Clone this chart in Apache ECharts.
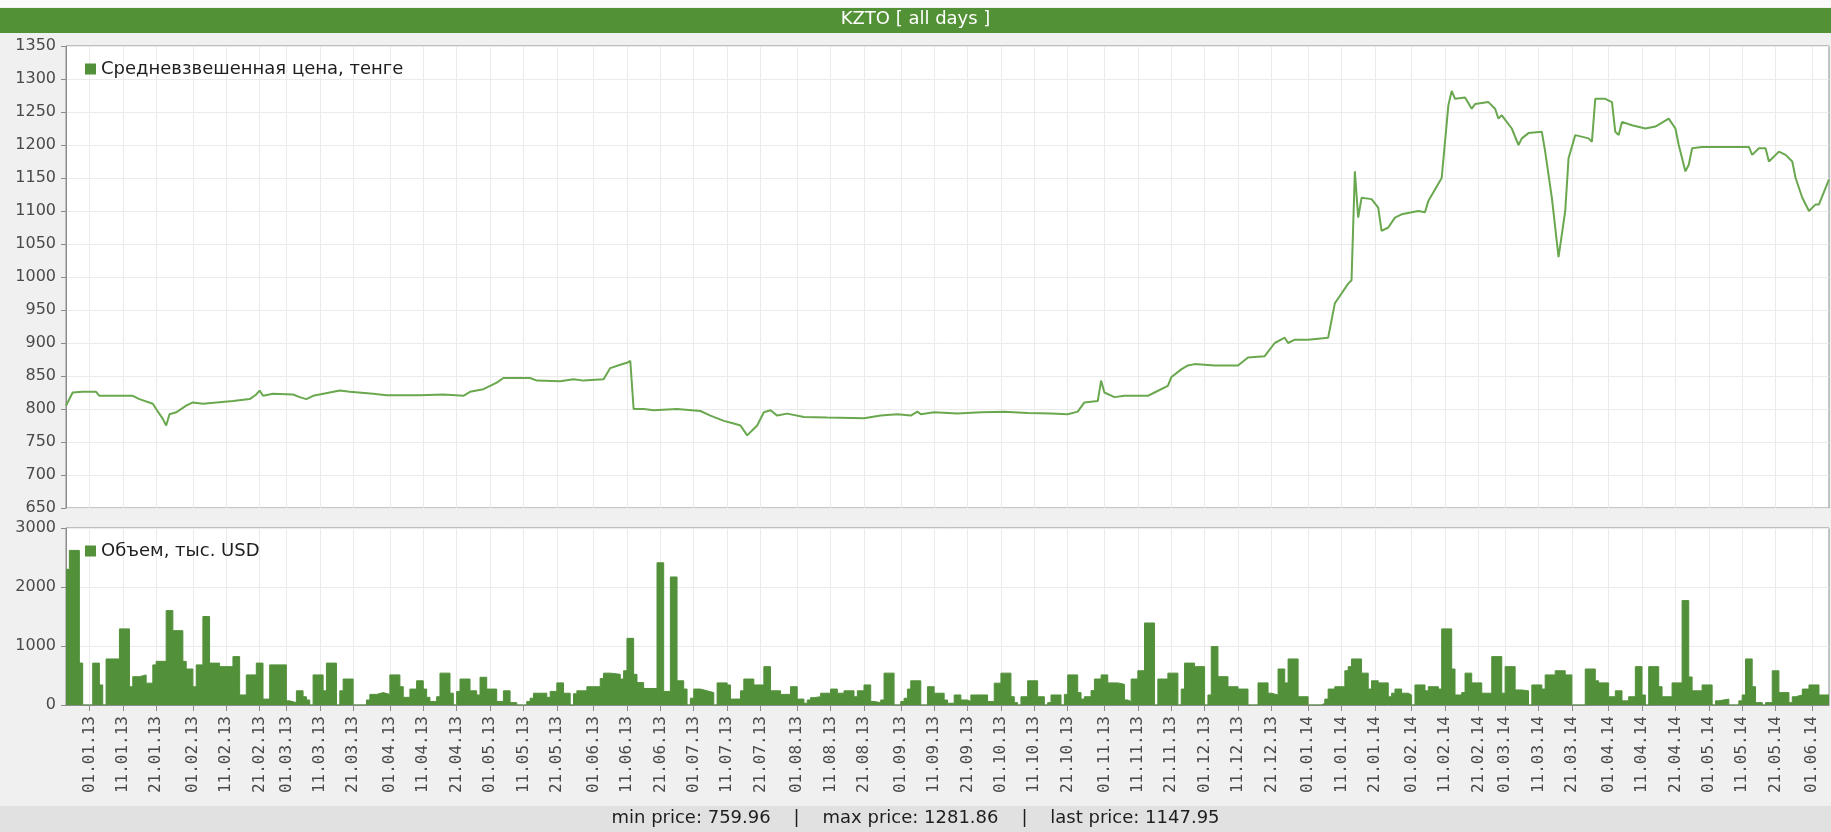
<!DOCTYPE html>
<html>
<head>
<meta charset="utf-8">
<title>KZTO [ all days ]</title>
<script src="https://cdn.jsdelivr.net/npm/echarts@6/dist/echarts.min.js"></script>
<style>
  html, body { margin: 0; padding: 0; background: #f0f0f0; }
  #main { width: 1831px; height: 832px; }
</style>
</head>
<body>
<div id="main"></div>
<script>
// calendar days on the x axis (dates of the trading history)
var firstDay = '2012-12-25';
var lastDay = '2014-06-06';

// weighted average price, tenge  [date, price]
var pricePoints = [
  ['2012-12-25', 805], ['2012-12-27', 825], ['2012-12-30', 826], ['2013-01-03', 826], ['2013-01-04', 820],
  ['2013-01-14', 820], ['2013-01-16', 815], ['2013-01-20', 808], ['2013-01-21', 800], ['2013-01-23', 785],
  ['2013-01-24', 775], ['2013-01-25', 792], ['2013-01-27', 795], ['2013-01-30', 805], ['2013-02-01', 810],
  ['2013-02-04', 808], ['2013-02-13', 812], ['2013-02-18', 815], ['2013-02-20', 822], ['2013-02-21', 828],
  ['2013-02-22', 820], ['2013-02-25', 823], ['2013-03-03', 822], ['2013-03-05', 818], ['2013-03-07', 815],
  ['2013-03-09', 820], ['2013-03-14', 825], ['2013-03-17', 828], ['2013-03-20', 826], ['2013-03-27', 823],
  ['2013-03-31', 821], ['2013-04-10', 821], ['2013-04-17', 822], ['2013-04-23', 820], ['2013-04-25', 826],
  ['2013-04-29', 830], ['2013-05-03', 840], ['2013-05-05', 847], ['2013-05-13', 847], ['2013-05-15', 843],
  ['2013-05-22', 842], ['2013-05-26', 845], ['2013-05-29', 843], ['2013-06-04', 845], ['2013-06-06', 862],
  ['2013-06-09', 867], ['2013-06-11', 870], ['2013-06-12', 873], ['2013-06-13', 800], ['2013-06-16', 800],
  ['2013-06-19', 798], ['2013-06-26', 800], ['2013-07-03', 797], ['2013-07-06', 790], ['2013-07-10', 782],
  ['2013-07-13', 778], ['2013-07-15', 775], ['2013-07-17', 760], ['2013-07-19', 770], ['2013-07-20', 775],
  ['2013-07-22', 795], ['2013-07-24', 798], ['2013-07-26', 790], ['2013-07-29', 793], ['2013-08-03', 788],
  ['2013-08-10', 787], ['2013-08-21', 786], ['2013-08-26', 790], ['2013-08-31', 792], ['2013-09-04', 790],
  ['2013-09-06', 796], ['2013-09-07', 792], ['2013-09-11', 795], ['2013-09-18', 793], ['2013-09-25', 795],
  ['2013-10-02', 796], ['2013-10-09', 794], ['2013-10-16', 793], ['2013-10-21', 792], ['2013-10-24', 796],
  ['2013-10-26', 810], ['2013-10-30', 812], ['2013-10-31', 843], ['2013-11-01', 825], ['2013-11-04', 818],
  ['2013-11-07', 820], ['2013-11-14', 820], ['2013-11-16', 825], ['2013-11-20', 835], ['2013-11-21', 848],
  ['2013-11-24', 860], ['2013-11-26', 866], ['2013-11-28', 868], ['2013-12-04', 866], ['2013-12-11', 866],
  ['2013-12-14', 878], ['2013-12-19', 880], ['2013-12-22', 900], ['2013-12-25', 908], ['2013-12-26', 900],
  ['2013-12-28', 905], ['2014-01-01', 905], ['2014-01-07', 908], ['2014-01-09', 960], ['2014-01-11', 975],
  ['2014-01-13', 990], ['2014-01-14', 995], ['2014-01-15', 1160], ['2014-01-16', 1090], ['2014-01-17', 1120],
  ['2014-01-20', 1118], ['2014-01-22', 1105], ['2014-01-23', 1070], ['2014-01-25', 1075], ['2014-01-27', 1090],
  ['2014-01-29', 1095], ['2014-02-03', 1100], ['2014-02-05', 1098], ['2014-02-06', 1115], ['2014-02-10', 1150],
  ['2014-02-12', 1260], ['2014-02-13', 1282], ['2014-02-14', 1270], ['2014-02-17', 1272], ['2014-02-19', 1255],
  ['2014-02-20', 1262], ['2014-02-24', 1265], ['2014-02-26', 1255], ['2014-02-27', 1240], ['2014-02-28', 1245],
  ['2014-03-03', 1225], ['2014-03-05', 1200], ['2014-03-06', 1210], ['2014-03-08', 1218], ['2014-03-12', 1220],
  ['2014-03-13', 1190], ['2014-03-15', 1120], ['2014-03-17', 1030], ['2014-03-19', 1100], ['2014-03-20', 1180],
  ['2014-03-22', 1215], ['2014-03-26', 1210], ['2014-03-27', 1205], ['2014-03-28', 1270], ['2014-03-31', 1270],
  ['2014-04-02', 1265], ['2014-04-03', 1220], ['2014-04-04', 1215], ['2014-04-05', 1235], ['2014-04-08', 1230],
  ['2014-04-12', 1225], ['2014-04-15', 1228], ['2014-04-19', 1240], ['2014-04-21', 1225], ['2014-04-22', 1200],
  ['2014-04-24', 1160], ['2014-04-25', 1170], ['2014-04-26', 1195], ['2014-04-29', 1197], ['2014-05-13', 1197],
  ['2014-05-14', 1185], ['2014-05-16', 1195], ['2014-05-18', 1195], ['2014-05-19', 1175], ['2014-05-20', 1180],
  ['2014-05-22', 1190], ['2014-05-24', 1185], ['2014-05-26', 1175], ['2014-05-27', 1150], ['2014-05-29', 1120],
  ['2014-05-31', 1100], ['2014-06-02', 1110], ['2014-06-03', 1110], ['2014-06-06', 1148]
];

// volume, thousand USD  [date the bar starts, volume] - each bar lasts until the next date
var volumePoints = [
  ['2012-12-25', 2300], ['2012-12-26', 2620], ['2012-12-29', 710], ['2012-12-30', 0], ['2013-01-02', 710],
  ['2013-01-04', 340], ['2013-01-05', 0], ['2013-01-06', 780], ['2013-01-10', 1290], ['2013-01-13', 310],
  ['2013-01-14', 480], ['2013-01-16', 510], ['2013-01-18', 370], ['2013-01-20', 680], ['2013-01-21', 740],
  ['2013-01-24', 1600], ['2013-01-26', 1260], ['2013-01-29', 740], ['2013-01-30', 610], ['2013-02-01', 310],
  ['2013-02-02', 680], ['2013-02-04', 1500], ['2013-02-06', 710], ['2013-02-09', 650], ['2013-02-13', 820],
  ['2013-02-15', 170], ['2013-02-17', 510], ['2013-02-20', 710], ['2013-02-22', 100], ['2013-02-24', 680],
  ['2013-03-01', 70], ['2013-03-02', 40], ['2013-03-04', 240], ['2013-03-06', 140], ['2013-03-07', 85],
  ['2013-03-08', 0], ['2013-03-09', 510], ['2013-03-12', 240], ['2013-03-13', 710], ['2013-03-16', 0],
  ['2013-03-17', 240], ['2013-03-18', 440], ['2013-03-21', 0], ['2013-03-25', 85], ['2013-03-26', 180],
  ['2013-03-28', 210], ['2013-03-30', 180], ['2013-04-01', 510], ['2013-04-04', 310], ['2013-04-05', 130],
  ['2013-04-07', 270], ['2013-04-09', 410], ['2013-04-11', 270], ['2013-04-12', 130], ['2013-04-13', 60],
  ['2013-04-15', 140], ['2013-04-16', 540], ['2013-04-19', 200], ['2013-04-20', 0], ['2013-04-21', 230],
  ['2013-04-22', 440], ['2013-04-25', 240], ['2013-04-27', 170], ['2013-04-28', 470], ['2013-04-30', 270],
  ['2013-05-03', 60], ['2013-05-05', 240], ['2013-05-07', 40], ['2013-05-09', 0], ['2013-05-12', 60],
  ['2013-05-13', 115], ['2013-05-14', 200], ['2013-05-18', 130], ['2013-05-19', 230], ['2013-05-21', 375],
  ['2013-05-23', 200], ['2013-05-25', 0], ['2013-05-26', 190], ['2013-05-27', 240], ['2013-05-30', 310],
  ['2013-06-03', 450], ['2013-06-04', 540], ['2013-06-06', 520], ['2013-06-09', 440], ['2013-06-10', 580],
  ['2013-06-11', 1130], ['2013-06-13', 520], ['2013-06-14', 380], ['2013-06-16', 280], ['2013-06-20', 2410],
  ['2013-06-22', 230], ['2013-06-24', 2170], ['2013-06-26', 410], ['2013-06-28', 270], ['2013-06-29', 0],
  ['2013-06-30', 115], ['2013-07-01', 270], ['2013-07-03', 240], ['2013-07-05', 210], ['2013-07-07', 0],
  ['2013-07-08', 375], ['2013-07-11', 340], ['2013-07-12', 100], ['2013-07-15', 240], ['2013-07-16', 440],
  ['2013-07-19', 340], ['2013-07-22', 650], ['2013-07-24', 240], ['2013-07-27', 180], ['2013-07-30', 310],
  ['2013-08-01', 100], ['2013-08-03', 30], ['2013-08-04', 85], ['2013-08-05', 125], ['2013-08-06', 140],
  ['2013-08-08', 200], ['2013-08-11', 270], ['2013-08-13', 200], ['2013-08-15', 240], ['2013-08-18', 140],
  ['2013-08-19', 240], ['2013-08-21', 340], ['2013-08-23', 60], ['2013-08-24', 40], ['2013-08-26', 85],
  ['2013-08-27', 540], ['2013-08-30', 0], ['2013-09-01', 60], ['2013-09-02', 115], ['2013-09-03', 270],
  ['2013-09-04', 410], ['2013-09-07', 0], ['2013-09-09', 310], ['2013-09-11', 200], ['2013-09-14', 85],
  ['2013-09-15', 30], ['2013-09-17', 170], ['2013-09-19', 85], ['2013-09-21', 60], ['2013-09-22', 170],
  ['2013-09-27', 60], ['2013-09-29', 370], ['2013-10-01', 540], ['2013-10-04', 140], ['2013-10-05', 40],
  ['2013-10-06', 0], ['2013-10-07', 140], ['2013-10-09', 410], ['2013-10-12', 140], ['2013-10-14', 0],
  ['2013-10-15', 40], ['2013-10-16', 170], ['2013-10-19', 0], ['2013-10-20', 180], ['2013-10-21', 510],
  ['2013-10-24', 210], ['2013-10-25', 100], ['2013-10-26', 140], ['2013-10-28', 245], ['2013-10-29', 440],
  ['2013-10-31', 510], ['2013-11-02', 375], ['2013-11-05', 350], ['2013-11-07', 85], ['2013-11-08', 60],
  ['2013-11-09', 440], ['2013-11-11', 580], ['2013-11-13', 1390], ['2013-11-16', 0], ['2013-11-17', 440],
  ['2013-11-20', 540], ['2013-11-23', 0], ['2013-11-24', 270], ['2013-11-25', 710], ['2013-11-28', 650],
  ['2013-12-01', 0], ['2013-12-02', 170], ['2013-12-03', 990], ['2013-12-05', 480], ['2013-12-08', 310],
  ['2013-12-11', 270], ['2013-12-14', 0], ['2013-12-17', 375], ['2013-12-20', 200], ['2013-12-21', 170],
  ['2013-12-23', 610], ['2013-12-25', 375], ['2013-12-26', 780], ['2013-12-29', 140], ['2014-01-01', 0],
  ['2014-01-05', 30], ['2014-01-06', 100], ['2014-01-07', 270], ['2014-01-09', 310], ['2014-01-12', 580],
  ['2014-01-13', 650], ['2014-01-14', 780], ['2014-01-17', 540], ['2014-01-19', 270], ['2014-01-20', 410],
  ['2014-01-22', 375], ['2014-01-25', 140], ['2014-01-26', 200], ['2014-01-27', 270], ['2014-01-29', 200],
  ['2014-01-31', 170], ['2014-02-01', 0], ['2014-02-02', 340], ['2014-02-05', 240], ['2014-02-06', 310],
  ['2014-02-09', 270], ['2014-02-10', 1290], ['2014-02-13', 610], ['2014-02-14', 170], ['2014-02-16', 210],
  ['2014-02-17', 540], ['2014-02-19', 375], ['2014-02-22', 200], ['2014-02-25', 820], ['2014-02-28', 200],
  ['2014-03-01', 650], ['2014-03-04', 255], ['2014-03-06', 240], ['2014-03-08', 0], ['2014-03-09', 340],
  ['2014-03-12', 270], ['2014-03-13', 510], ['2014-03-16', 580], ['2014-03-19', 510], ['2014-03-21', 0],
  ['2014-03-25', 610], ['2014-03-28', 410], ['2014-03-29', 375], ['2014-04-01', 140], ['2014-04-03', 240],
  ['2014-04-05', 70], ['2014-04-07', 140], ['2014-04-09', 650], ['2014-04-11', 170], ['2014-04-12', 0],
  ['2014-04-13', 650], ['2014-04-16', 310], ['2014-04-17', 140], ['2014-04-20', 375], ['2014-04-23', 1770],
  ['2014-04-25', 475], ['2014-04-26', 240], ['2014-04-29', 340], ['2014-05-02', 0], ['2014-05-03', 70],
  ['2014-05-04', 100], ['2014-05-07', 0], ['2014-05-10', 70], ['2014-05-11', 170], ['2014-05-12', 780],
  ['2014-05-14', 310], ['2014-05-15', 40], ['2014-05-17', 0], ['2014-05-18', 40], ['2014-05-20', 580],
  ['2014-05-22', 210], ['2014-05-25', 40], ['2014-05-26', 140], ['2014-05-27', 170], ['2014-05-29', 270],
  ['2014-05-31', 340], ['2014-06-03', 170], ['2014-06-06', 170]
];

var priceName = 'Средневзвешенная цена, тенге';
var volumeName = 'Объем, тыс. USD';
var statusText = 'min price: 759.96    |    max price: 1281.86    |    last price: 1147.95';

// build the list of calendar days
var days = [];
var t0 = new Date(firstDay + 'T00:00:00Z').getTime();
var t1 = new Date(lastDay + 'T00:00:00Z').getTime();
for (var t = t0; t <= t1; t += 86400000) {
  days.push(new Date(t).toISOString().slice(0, 10));
}

// ticks on the 1st, 11th and 21st of each month
function isTickDay(index, value) {
  var d = value.slice(8, 10);
  return d === '01' || d === '11' || d === '21';
}
function dayLabel(value) {
  return value.slice(8, 10) + '.' + value.slice(5, 7) + '.' + value.slice(2, 4);
}
function plainNumber(v) {
  return String(v);
}

var green = '#52913a';
var gridColor = '#ebebeb';
var axisColor = '#8c8c8c';

var dom = document.getElementById('main');
var myChart = echarts.init(dom, null, { renderer: 'canvas' });

var option = {
  backgroundColor: '#f0f0f0',
  animation: false,
  graphic: [
    { type: 'rect', left: 0, top: 0, shape: { width: 1831, height: 7 }, style: { fill: '#fafafa' } },
    { type: 'rect', left: 0, top: 8, shape: { width: 1831, height: 25 }, style: { fill: '#529135' } },
    { type: 'text', left: 'center', top: 10, style: { text: 'KZTO [ all days ]', fill: '#ffffff', font: '18px "DejaVu Sans"' } },
    { type: 'rect', left: 0, top: 806, shape: { width: 1831, height: 26 }, style: { fill: '#e1e1e1' } },
    { type: 'text', left: 'center', top: 809, style: { text: statusText, fill: '#1e1e1e', font: '18px "DejaVu Sans"' } }
  ],
  legend: [
    {
      data: [priceName], left: 80, top: 55, icon: 'rect', itemWidth: 11, itemHeight: 11, itemGap: 6,
      textStyle: { color: '#1e1e1e', fontFamily: 'DejaVu Sans', fontSize: 18 }
    },
    {
      data: [volumeName], left: 80, top: 537, icon: 'rect', itemWidth: 11, itemHeight: 11, itemGap: 6,
      textStyle: { color: '#1e1e1e', fontFamily: 'DejaVu Sans', fontSize: 18 }
    }
  ],
  grid: [
    { left: 66, right: 2, top: 46, height: 462, show: true, backgroundColor: '#ffffff', borderColor: axisColor, borderWidth: 1 },
    { left: 66, right: 2, top: 528, height: 177, show: true, backgroundColor: '#ffffff', borderColor: axisColor, borderWidth: 1 }
  ],
  xAxis: [
    {
      type: 'category', gridIndex: 0, data: days, boundaryGap: false,
      axisLine: { show: false }, axisTick: { show: false }, axisLabel: { show: false },
      splitLine: { show: true, interval: isTickDay, lineStyle: { color: gridColor, width: 1 } }
    },
    {
      type: 'category', gridIndex: 1, data: days, boundaryGap: false,
      axisLine: { show: true, lineStyle: { color: axisColor } },
      axisTick: { show: true, interval: isTickDay, length: 6, lineStyle: { color: axisColor } },
      axisLabel: {
        interval: isTickDay, rotate: 90, margin: 11, formatter: dayLabel,
        color: '#4a4a4a', fontFamily: 'DejaVu Sans Mono', fontSize: 16
      },
      splitLine: { show: true, interval: isTickDay, lineStyle: { color: gridColor, width: 1 } }
    }
  ],
  yAxis: [
    {
      type: 'value', gridIndex: 0, min: 650, max: 1350, interval: 50,
      axisLine: { show: true, lineStyle: { color: axisColor } },
      axisTick: { show: true, length: 5, lineStyle: { color: axisColor } },
      axisLabel: { margin: 10, formatter: plainNumber, color: '#4a4a4a', fontFamily: 'DejaVu Sans', fontSize: 16 },
      splitLine: { show: true, lineStyle: { color: gridColor, width: 1 } }
    },
    {
      type: 'value', gridIndex: 1, min: 0, max: 3000, interval: 1000,
      axisLine: { show: true, lineStyle: { color: axisColor } },
      axisTick: { show: true, length: 5, lineStyle: { color: axisColor } },
      axisLabel: { margin: 10, formatter: plainNumber, color: '#4a4a4a', fontFamily: 'DejaVu Sans', fontSize: 16 },
      splitLine: { show: true, lineStyle: { color: gridColor, width: 1 } }
    }
  ],
  series: [
    {
      name: priceName, type: 'line', xAxisIndex: 0, yAxisIndex: 0,
      data: pricePoints, showSymbol: false, symbol: 'none',
      itemStyle: { color: green },
      lineStyle: { color: '#6aa84f', width: 2 }
    },
    {
      name: volumeName, type: 'line', xAxisIndex: 1, yAxisIndex: 1,
      data: volumePoints, step: 'end', showSymbol: false, symbol: 'none',
      itemStyle: { color: green },
      lineStyle: { color: green, width: 1 },
      areaStyle: { color: green, opacity: 1 }
    }
  ]
};

if (option && typeof option === "object") {
  myChart.setOption(option, true);
}
</script>
</body>
</html>
